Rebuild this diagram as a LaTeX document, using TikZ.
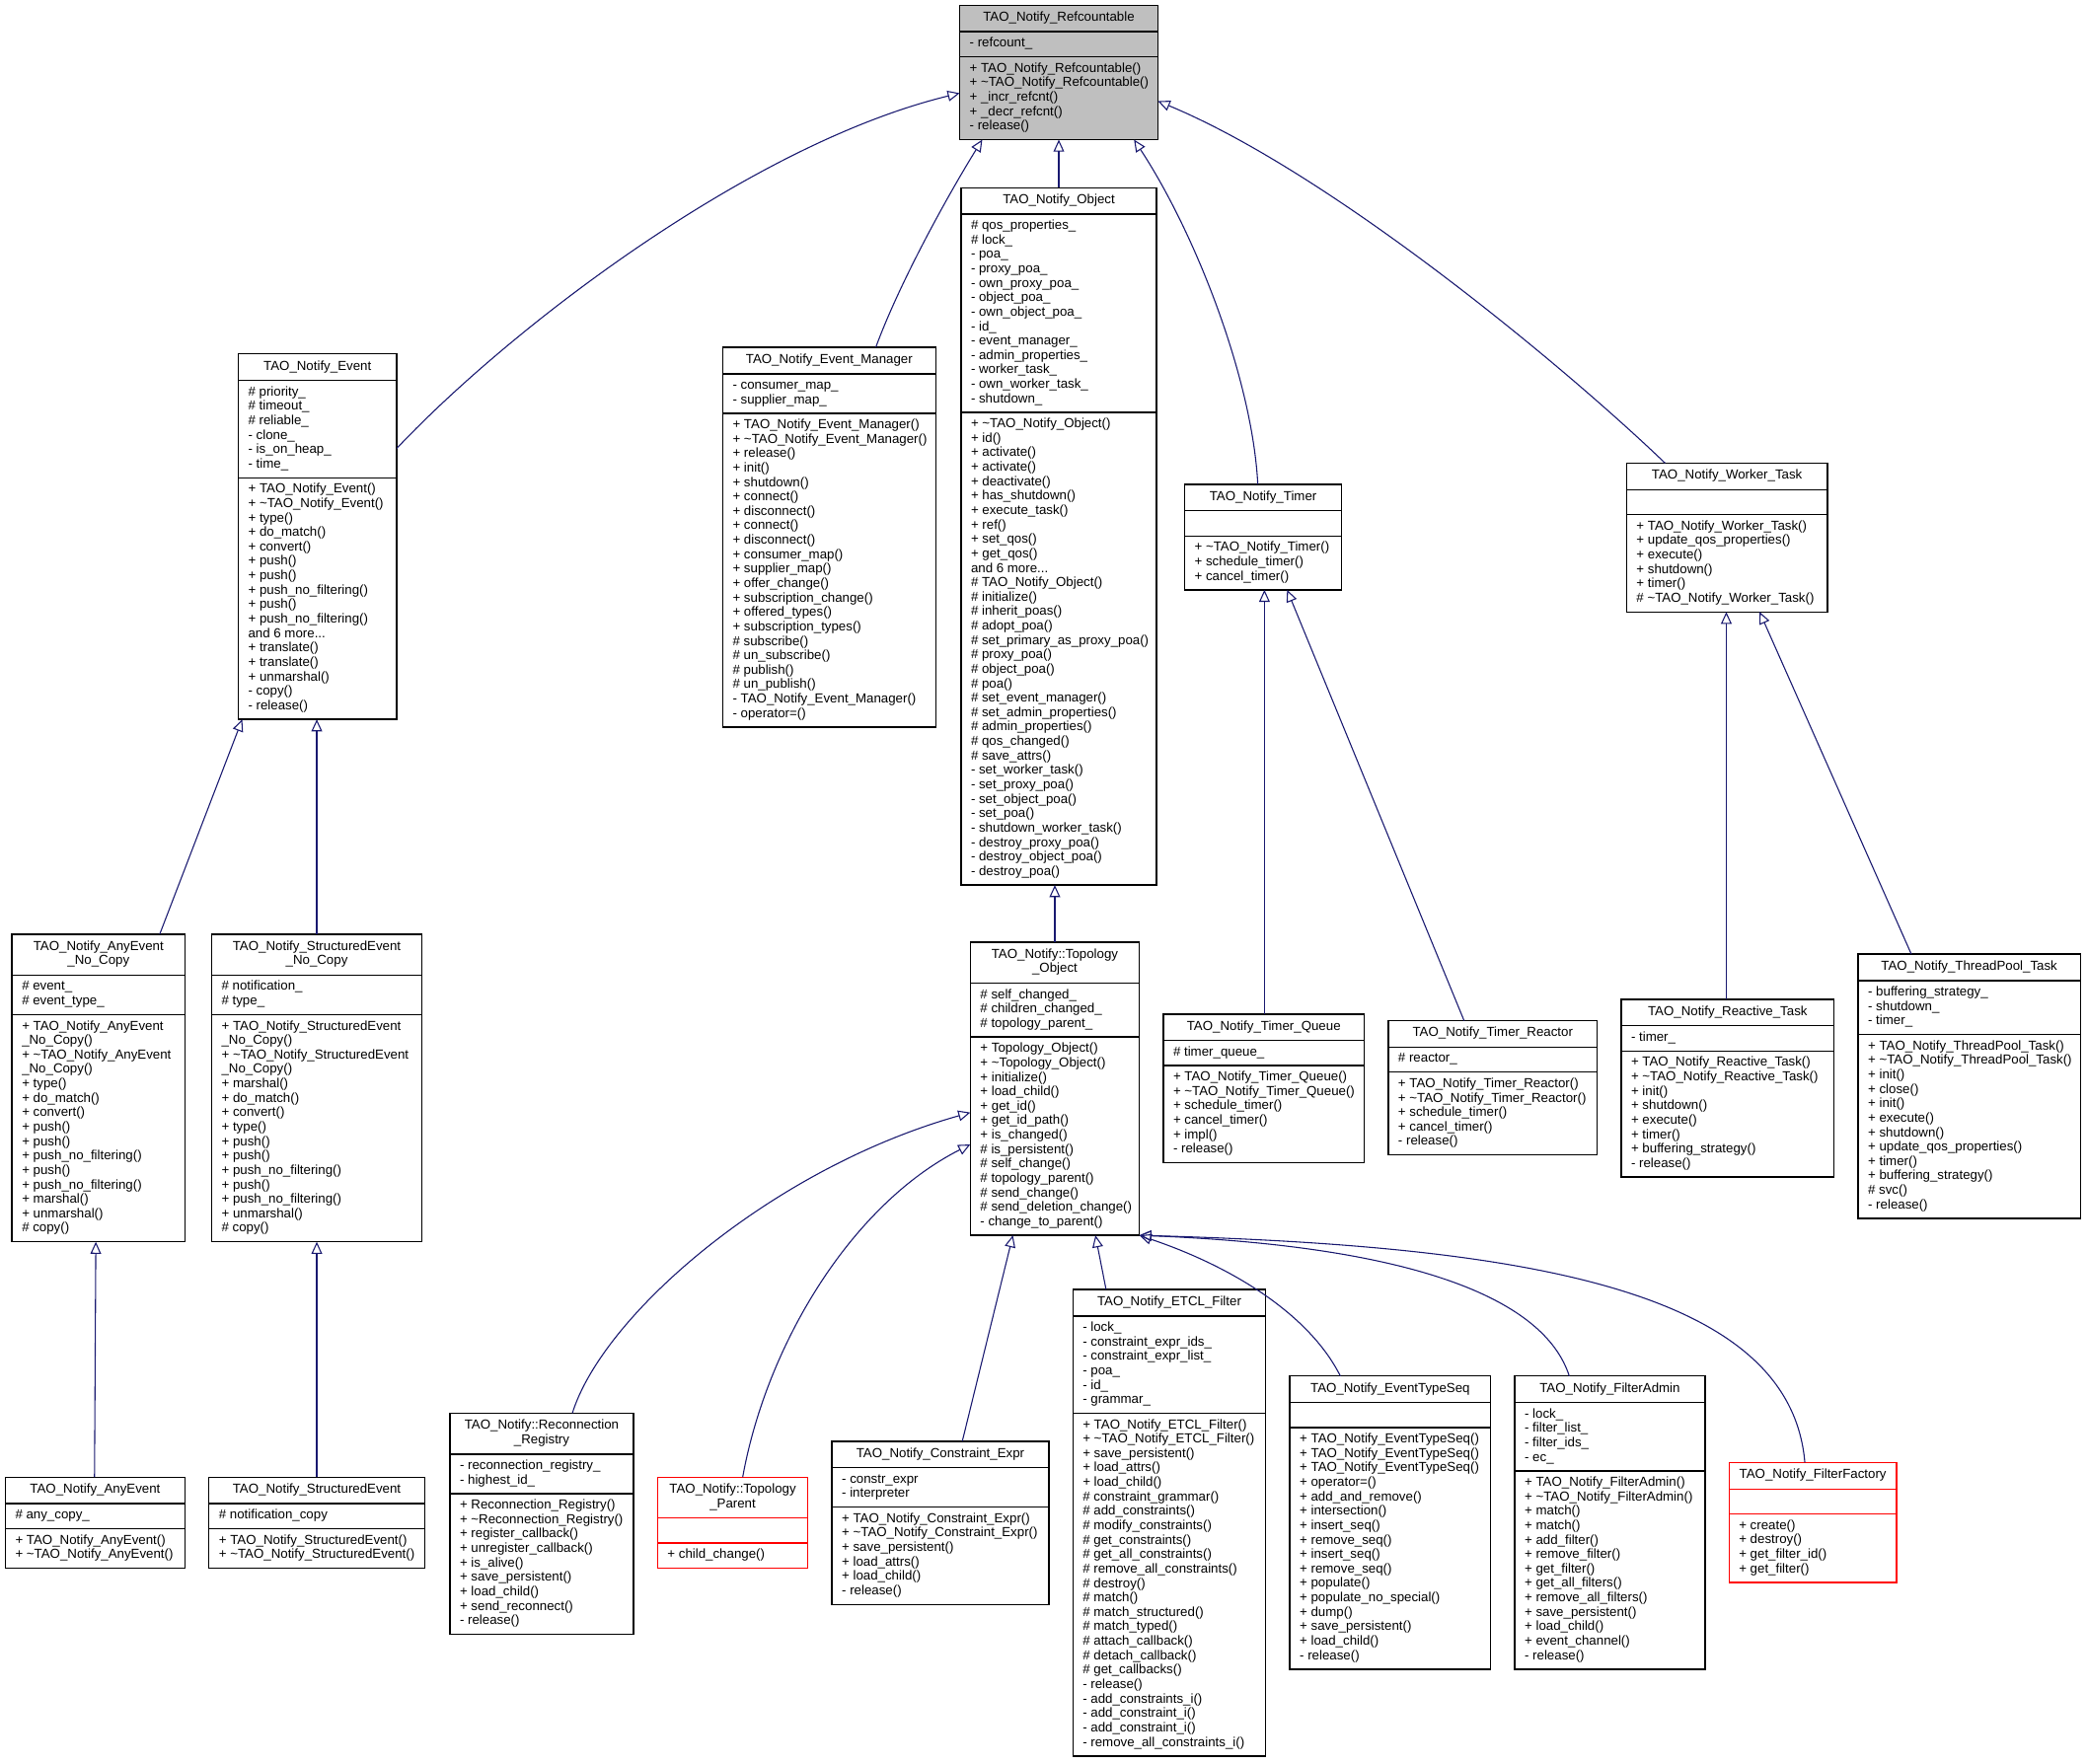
\documentclass[tikz,border=0pt]{standalone}
\usepackage{fontspec}
\setmainfont{Liberation Sans}
\usetikzlibrary{arrows.meta,calc,fit,backgrounds}
\definecolor{navy}{HTML}{191970}
\definecolor{gfill}{HTML}{BFBFBF}
\newcommand\tld{\textasciitilde}
\tikzset{
  uml/.style={font=\fontsize{9.85}{10.85}\selectfont, outer sep=0pt},
  ttl/.style={uml, anchor=north, inner xsep=0pt, inner ysep=4.5pt},
  lst/.style={uml, anchor=north west, inner xsep=7.5pt, inner ysep=4pt},
  boxframe/.style={inner sep=0pt, outer sep=0pt, line width=1pt},
  plainbox/.style={draw=black},
  redbox/.style={draw=red},
  graybox/.style={draw=black, fill=gfill},
  sepline/.style={line width=1pt},
  inh/.style={draw=navy, line width=0.8pt, -{Triangle[open,length=9pt,width=8pt]}},
}
% #1 name, #2 x, #3 y, #4 width, #5 style, #6 title, #7 attributes, #8 methods
\newcommand\umlbox[8]{%
  \coordinate (#1L) at (#2,#3);
  \coordinate (#1R) at (#2+#4,#3);
  \node[ttl] (#1t) at (#2+#4/2,#3) {\begin{tabular}{@{}c@{}}#6\end{tabular}};
  \node[lst] (#1a) at (#1L |- #1t.south) {\begin{tabular}{@{}l@{}}#7\end{tabular}};
  \node[lst] (#1m) at (#1L |- #1a.south) {\begin{tabular}{@{}l@{}}#8\end{tabular}};
  \coordinate (#1B) at (#1R |- #1m.south);
  \begin{scope}[on background layer]
    \node[boxframe,#5,fit=(#1L)(#1B)] (#1) {};
  \end{scope}
  \draw[sepline,#5] (#1L |- #1t.south) -- (#1R |- #1t.south);
  \draw[sepline,#5] (#1L |- #1a.south) -- (#1R |- #1a.south);
}
\begin{document}
\catcode`\_=12
\begin{tikzpicture}[x=1pt,y=-1pt]
\useasboundingbox (0,0) rectangle (1568,1325);
\begin{scope}[on background layer]
\fill[white] (0,0) rectangle (1568,1325);
\end{scope}

\umlbox{Ref}{721}{4}{149}{graybox}{TAO_Notify_Refcountable}{- refcount_}{+ TAO_Notify_Refcountable()\\+ \tld TAO_Notify_Refcountable()\\+ _incr_refcnt()\\+ _decr_refcnt()\\- release()}

\umlbox{Event}{179}{266}{119}{plainbox}{TAO_Notify_Event}
{\# priority_\\\# timeout_\\\# reliable_\\- clone_\\- is_on_heap_\\- time_}
{+ TAO_Notify_Event()\\+ \tld TAO_Notify_Event()\\+ type()\\+ do_match()\\+ convert()\\+ push()\\+ push()\\+ push_no_filtering()\\+ push()\\+ push_no_filtering()\\and 6 more...\\+ translate()\\+ translate()\\+ unmarshal()\\- copy()\\- release()}

\umlbox{EvMgr}{543}{261}{160}{plainbox}{TAO_Notify_Event_Manager}
{- consumer_map_\\- supplier_map_}
{+ TAO_Notify_Event_Manager()\\+ \tld TAO_Notify_Event_Manager()\\+ release()\\+ init()\\+ shutdown()\\+ connect()\\+ disconnect()\\+ connect()\\+ disconnect()\\+ consumer_map()\\+ supplier_map()\\+ offer_change()\\+ subscription_change()\\+ offered_types()\\+ subscription_types()\\\# subscribe()\\\# un_subscribe()\\\# publish()\\\# un_publish()\\- TAO_Notify_Event_Manager()\\- operator=()}

\umlbox{Obj}{722}{141}{147}{plainbox}{TAO_Notify_Object}
{\# qos_properties_\\\# lock_\\- poa_\\- proxy_poa_\\- own_proxy_poa_\\- object_poa_\\- own_object_poa_\\- id_\\- event_manager_\\- admin_properties_\\- worker_task_\\- own_worker_task_\\- shutdown_}
{+ \tld TAO_Notify_Object()\\+ id()\\+ activate()\\+ activate()\\+ deactivate()\\+ has_shutdown()\\+ execute_task()\\+ ref()\\+ set_qos()\\+ get_qos()\\and 6 more...\\\# TAO_Notify_Object()\\\# initialize()\\\# inherit_poas()\\\# adopt_poa()\\\# set_primary_as_proxy_poa()\\\# proxy_poa()\\\# object_poa()\\\# poa()\\\# set_event_manager()\\\# set_admin_properties()\\\# admin_properties()\\\# qos_changed()\\\# save_attrs()\\- set_worker_task()\\- set_proxy_poa()\\- set_object_poa()\\- set_poa()\\- shutdown_worker_task()\\- destroy_proxy_poa()\\- destroy_object_poa()\\- destroy_poa()}

\umlbox{Timer}{890}{364}{118}{plainbox}{TAO_Notify_Timer}{\mbox{}}{+ \tld TAO_Notify_Timer()\\+ schedule_timer()\\+ cancel_timer()}

\umlbox{Worker}{1222}{348}{151}{plainbox}{TAO_Notify_Worker_Task}{\mbox{}}{+ TAO_Notify_Worker_Task()\\+ update_qos_properties()\\+ execute()\\+ shutdown()\\+ timer()\\\# \tld TAO_Notify_Worker_Task()}

\umlbox{AnyNC}{9}{702}{130}{plainbox}{TAO_Notify_AnyEvent\\_No_Copy}{\# event_\\\# event_type_}
{+ TAO_Notify_AnyEvent\\_No_Copy()\\+ \tld TAO_Notify_AnyEvent\\_No_Copy()\\+ type()\\+ do_match()\\+ convert()\\+ push()\\+ push()\\+ push_no_filtering()\\+ push()\\+ push_no_filtering()\\+ marshal()\\+ unmarshal()\\\# copy()}

\umlbox{StrNC}{159}{702}{158}{plainbox}{TAO_Notify_StructuredEvent\\_No_Copy}{\# notification_\\\# type_}
{+ TAO_Notify_StructuredEvent\\_No_Copy()\\+ \tld TAO_Notify_StructuredEvent\\_No_Copy()\\+ marshal()\\+ do_match()\\+ convert()\\+ type()\\+ push()\\+ push()\\+ push_no_filtering()\\+ push()\\+ push_no_filtering()\\+ unmarshal()\\\# copy()}

\umlbox{Topo}{729}{708}{127}{plainbox}{TAO_Notify::Topology\\_Object}{\# self_changed_\\\# children_changed_\\\# topology_parent_}
{+ Topology_Object()\\+ \tld Topology_Object()\\+ initialize()\\+ load_child()\\+ get_id()\\+ get_id_path()\\+ is_changed()\\\# is_persistent()\\\# self_change()\\\# topology_parent()\\\# send_change()\\\# send_deletion_change()\\- change_to_parent()}

\umlbox{TQueue}{874}{762}{151}{plainbox}{TAO_Notify_Timer_Queue}{\# timer_queue_}
{+ TAO_Notify_Timer_Queue()\\+ \tld TAO_Notify_Timer_Queue()\\+ schedule_timer()\\+ cancel_timer()\\+ impl()\\- release()}

\umlbox{TReactor}{1043}{767}{157}{plainbox}{TAO_Notify_Timer_Reactor}{\# reactor_}
{+ TAO_Notify_Timer_Reactor()\\+ \tld TAO_Notify_Timer_Reactor()\\+ schedule_timer()\\+ cancel_timer()\\- release()}

\umlbox{Reactive}{1218}{751}{160}{plainbox}{TAO_Notify_Reactive_Task}{- timer_}
{+ TAO_Notify_Reactive_Task()\\+ \tld TAO_Notify_Reactive_Task()\\+ init()\\+ shutdown()\\+ execute()\\+ timer()\\+ buffering_strategy()\\- release()}

\umlbox{ThreadPool}{1396}{717}{167}{plainbox}{TAO_Notify_ThreadPool_Task}{- buffering_strategy_\\- shutdown_\\- timer_}
{+ TAO_Notify_ThreadPool_Task()\\+ \tld TAO_Notify_ThreadPool_Task()\\+ init()\\+ close()\\+ init()\\+ execute()\\+ shutdown()\\+ update_qos_properties()\\+ timer()\\+ buffering_strategy()\\\# svc()\\- release()}

\umlbox{AnyEv}{4}{1110}{135}{plainbox}{TAO_Notify_AnyEvent}{\# any_copy_}{+ TAO_Notify_AnyEvent()\\+ \tld TAO_Notify_AnyEvent()}

\umlbox{StrEv}{157}{1110}{162}{plainbox}{TAO_Notify_StructuredEvent}{\# notification_copy}{+ TAO_Notify_StructuredEvent()\\+ \tld TAO_Notify_StructuredEvent()}

\umlbox{Recon}{338}{1062}{138}{plainbox}{TAO_Notify::Reconnection\\_Registry}{- reconnection_registry_\\- highest_id_}
{+ Reconnection_Registry()\\+ \tld Reconnection_Registry()\\+ register_callback()\\+ unregister_callback()\\+ is_alive()\\+ save_persistent()\\+ load_child()\\+ send_reconnect()\\- release()}

\umlbox{TopoParent}{494}{1110}{113}{redbox}{TAO_Notify::Topology\\_Parent}{\mbox{}}{+ child_change()}

\umlbox{Constraint}{625}{1083}{163}{plainbox}{TAO_Notify_Constraint_Expr}{- constr_expr\\- interpreter}
{+ TAO_Notify_Constraint_Expr()\\+ \tld TAO_Notify_Constraint_Expr()\\+ save_persistent()\\+ load_attrs()\\+ load_child()\\- release()}

\umlbox{ETCL}{806}{969}{145}{plainbox}{TAO_Notify_ETCL_Filter}{- lock_\\- constraint_expr_ids_\\- constraint_expr_list_\\- poa_\\- id_\\- grammar_}
{+ TAO_Notify_ETCL_Filter()\\+ \tld TAO_Notify_ETCL_Filter()\\+ save_persistent()\\+ load_attrs()\\+ load_child()\\\# constraint_grammar()\\\# add_constraints()\\\# modify_constraints()\\\# get_constraints()\\\# get_all_constraints()\\\# remove_all_constraints()\\\# destroy()\\\# match()\\\# match_structured()\\\# match_typed()\\\# attach_callback()\\\# detach_callback()\\\# get_callbacks()\\- release()\\- add_constraints_i()\\- add_constraint_i()\\- add_constraint_i()\\- remove_all_constraints_i()}

\umlbox{ETS}{969}{1034}{151}{plainbox}{TAO_Notify_EventTypeSeq}{\mbox{}}
{+ TAO_Notify_EventTypeSeq()\\+ TAO_Notify_EventTypeSeq()\\+ TAO_Notify_EventTypeSeq()\\+ operator=()\\+ add_and_remove()\\+ intersection()\\+ insert_seq()\\+ remove_seq()\\+ insert_seq()\\+ remove_seq()\\+ populate()\\+ populate_no_special()\\+ dump()\\+ save_persistent()\\+ load_child()\\- release()}

\umlbox{FAdmin}{1138}{1034}{143}{plainbox}{TAO_Notify_FilterAdmin}{- lock_\\- filter_list_\\- filter_ids_\\- ec_}
{+ TAO_Notify_FilterAdmin()\\+ \tld TAO_Notify_FilterAdmin()\\+ match()\\+ match()\\+ add_filter()\\+ remove_filter()\\+ get_filter()\\+ get_all_filters()\\+ remove_all_filters()\\+ save_persistent()\\+ load_child()\\+ event_channel()\\- release()}

\umlbox{FFactory}{1299}{1099}{126}{redbox}{TAO_Notify_FilterFactory}{\mbox{}}{+ create()\\+ destroy()\\+ get_filter_id()\\+ get_filter()}

% connectors
\draw[inh] ($(Event.north east)+(0,71)$) .. controls +(87,-92) and +(-156,38) .. ($(Ref.north west)+(0,66)$);
\draw[inh] ($(EvMgr.north west)+(115,0)$) .. controls +(18,-49) and +(-26,42) .. ($(Ref.south west)+(17,0)$);
\draw[inh] (Obj.north) -- (Obj.north |- Ref.south);
\draw[inh] ($(Timer.north west)+(55,0)$) .. controls +(-4,-79) and +(46,70) .. ($(Ref.south west)+(131,0)$);
\draw[inh] ($(Worker.north west)+(29,0)$) .. controls +(-76,-73) and +(130,54) .. ($(Ref.north east)+(0,72)$);
\draw[inh] ($(AnyNC.north west)+(111,0)$) -- ($(Event.south west)+(3,0)$);
\draw[inh] (StrNC.north) -- (StrNC.north |- Event.south);
\draw[inh] ($(AnyEv.north west)+(67,0)$) -- ($(AnyNC.south west)+(63,0)$);
\draw[inh] (StrEv.north) -- (StrEv.north |- StrNC.south);
\draw[inh] (Topo.north) -- (Topo.north |- Obj.south);
\coordinate (tq) at ($(TQueue.north west)+(76,0)$);
\draw[inh] (tq) -- (tq |- Timer.south);
\draw[inh] ($(TReactor.north west)+(57,0)$) -- ($(Timer.south west)+(77,0)$);
\coordinate (rt) at ($(Reactive.north west)+(79,0)$);
\draw[inh] (rt) -- (rt |- Worker.south);
\draw[inh] ($(ThreadPool.north west)+(40,0)$) -- ($(Worker.south west)+(100,0)$);
\draw[inh] ($(Recon.north west)+(92,0)$) .. controls +(23,-74) and +(-149,42) .. ($(Topo.north west)+(0,128)$);
\draw[inh] ($(TopoParent.north west)+(64,0)$) .. controls +(18,-100) and +(-89,45) .. ($(Topo.north west)+(0,152)$);
\draw[inh] ($(Constraint.north west)+(98,0)$) -- ($(Topo.south west)+(32,0)$);
\draw[inh] ($(ETCL.north west)+(25,0)$) -- ($(Topo.south west)+(94,0)$);
\draw[inh] ($(ETS.north west)+(38,0)$) .. controls +(-22,-44) and +(74,25) .. (Topo.south east);
\draw[inh] ($(FAdmin.north west)+(41,0)$) .. controls +(-19,-59) and +(204,8) .. (Topo.south east);
\draw[inh] ($(FFactory.north west)+(57,0)$) .. controls +(-11,-129) and +(294,8) .. (Topo.south east);
\end{tikzpicture}
\end{document}
